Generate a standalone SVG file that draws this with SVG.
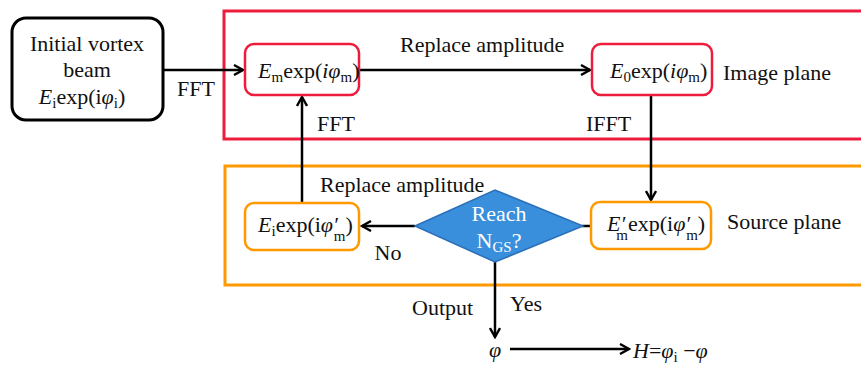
<svg xmlns="http://www.w3.org/2000/svg" width="861" height="365" viewBox="0 0 861 365">
  <style>
    text { font-family: "Liberation Serif", "Times New Roman", serif; font-size: 22px; fill: #111; }
    .it { font-style: italic; }
    .sub { font-size: 15px; }
    .frame-red { fill: none; stroke: #ee1c3c; stroke-width: 3; }
    .frame-orange { fill: none; stroke: #ff9900; stroke-width: 3; }
    .box-red { fill: #fff; stroke: #ee1c3c; stroke-width: 2.5; }
    .box-orange { fill: #fff; stroke: #ff9900; stroke-width: 2.5; }
    .edge { fill: none; stroke: #000; stroke-width: 2.5; }
    .white { fill: #fff; }
  </style>
  <defs>
    <marker id="arrow" viewBox="0 0 12 12" refX="10" refY="6" markerWidth="12" markerHeight="12" markerUnits="userSpaceOnUse" orient="auto">
      <path d="M1,1 L10,6 L1,11" fill="none" stroke="#000" stroke-width="2.4"/>
    </marker>
  </defs>
  <rect width="861" height="365" fill="#fff"/>

  <!-- plane frames -->
  <g id="image-plane">
    <rect class="frame-red" x="224" y="11" width="660" height="128"/>
    <text x="723" y="80">Image plane</text>
  </g>
  <g id="source-plane">
    <rect class="frame-orange" x="225" y="166" width="660" height="119"/>
    <text x="727" y="229">Source plane</text>
  </g>

  <!-- connectors -->
  <g id="connectors">
    <line class="edge" x1="163" y1="70" x2="243" y2="70" marker-end="url(#arrow)"/>
    <line class="edge" x1="359" y1="70" x2="590" y2="70" marker-end="url(#arrow)"/>
    <line class="edge" x1="651" y1="95" x2="651" y2="200" marker-end="url(#arrow)"/>
    <line class="edge" x1="302" y1="203" x2="302" y2="97" marker-end="url(#arrow)"/>
    <line class="edge" x1="591" y1="226" x2="582" y2="226"/>
    <line class="edge" x1="415" y1="226" x2="362" y2="226" marker-end="url(#arrow)"/>
    <line class="edge" x1="495" y1="262" x2="495" y2="337" marker-end="url(#arrow)"/>
    <line class="edge" x1="510" y1="349" x2="629" y2="349" marker-end="url(#arrow)"/>
    <text x="177" y="96">FFT</text>
    <text x="400" y="52">Replace amplitude</text>
    <text x="317" y="131">FFT</text>
    <text x="586" y="131">IFFT</text>
    <text x="320" y="192">Replace amplitude</text>
    <text x="388" y="260" text-anchor="middle">No</text>
    <text x="412" y="315">Output</text>
    <text x="510" y="311">Yes</text>
  </g>

  <g id="initial-beam">
    <rect x="12" y="18" width="151" height="102" rx="14" fill="#fff" stroke="#000" stroke-width="3"/>
    <text x="87" y="51" text-anchor="middle">Initial vortex</text>
    <text x="87" y="77" text-anchor="middle">beam</text>
    <text x="82" y="104" text-anchor="middle"><tspan class="it">E</tspan><tspan class="sub" dy="4">i</tspan><tspan dy="-4">exp(i</tspan><tspan class="it">φ</tspan><tspan class="sub" dy="4">i</tspan><tspan dy="-4">)</tspan></text>
  </g>

  <g id="em-field">
    <rect class="box-red" x="245" y="44" width="114" height="51" rx="9"/>
    <text x="258" y="78"><tspan class="it">E</tspan><tspan class="sub" dy="4">m</tspan><tspan dy="-4">exp(</tspan><tspan class="it">iφ</tspan><tspan class="sub" dy="4">m</tspan><tspan dy="-4">)</tspan></text>
  </g>

  <g id="e0-field">
    <rect class="box-red" x="592" y="44" width="120" height="51" rx="9"/>
    <text x="610" y="78"><tspan class="it">E</tspan><tspan class="sub" dy="4">0</tspan><tspan dy="-4">exp(</tspan><tspan class="it">iφ</tspan><tspan class="sub" dy="4">m</tspan><tspan dy="-4">)</tspan></text>
  </g>

  <g id="em-prime-field">
    <rect class="box-orange" x="591" y="202" width="120" height="47" rx="9"/>
    <text x="607" y="231"><tspan class="it">E</tspan><tspan class="it">′</tspan><tspan class="sub" dx="-9" dy="9">m</tspan><tspan dy="-9">exp(i</tspan><tspan class="it">φ</tspan><tspan class="it">′</tspan><tspan class="sub" dx="-4" dy="9">m</tspan><tspan dy="-9">)</tspan></text>
  </g>

  <g id="ei-field">
    <rect class="box-orange" x="245" y="203" width="114" height="47" rx="9"/>
    <text x="258" y="232"><tspan class="it">E</tspan><tspan class="sub" dy="4">i</tspan><tspan dy="-4">exp(i</tspan><tspan class="it">φ</tspan><tspan class="it">′</tspan><tspan class="sub" dx="-4" dy="9">m</tspan><tspan dy="-9">)</tspan></text>
  </g>

  <g id="decision">
    <polygon points="415,226 495,190 583,226 495,262" fill="#3a8fdc" stroke="#2a6fb8" stroke-width="1.5"/>
    <text x="499" y="221" text-anchor="middle" class="white">Reach</text>
    <text x="499" y="248" text-anchor="middle" class="white">N<tspan class="sub white" dy="4">GS</tspan><tspan class="white" dy="-4">?</tspan></text>
  </g>

  <g id="phase">
    <text x="489" y="357" class="it">φ</text>
  </g>

  <g id="hologram">
    <text x="633" y="358"><tspan class="it">H</tspan>=<tspan class="it">φ</tspan><tspan class="sub" dy="4">i</tspan><tspan dy="-4"> −</tspan><tspan class="it">φ</tspan></text>
  </g>
</svg>
